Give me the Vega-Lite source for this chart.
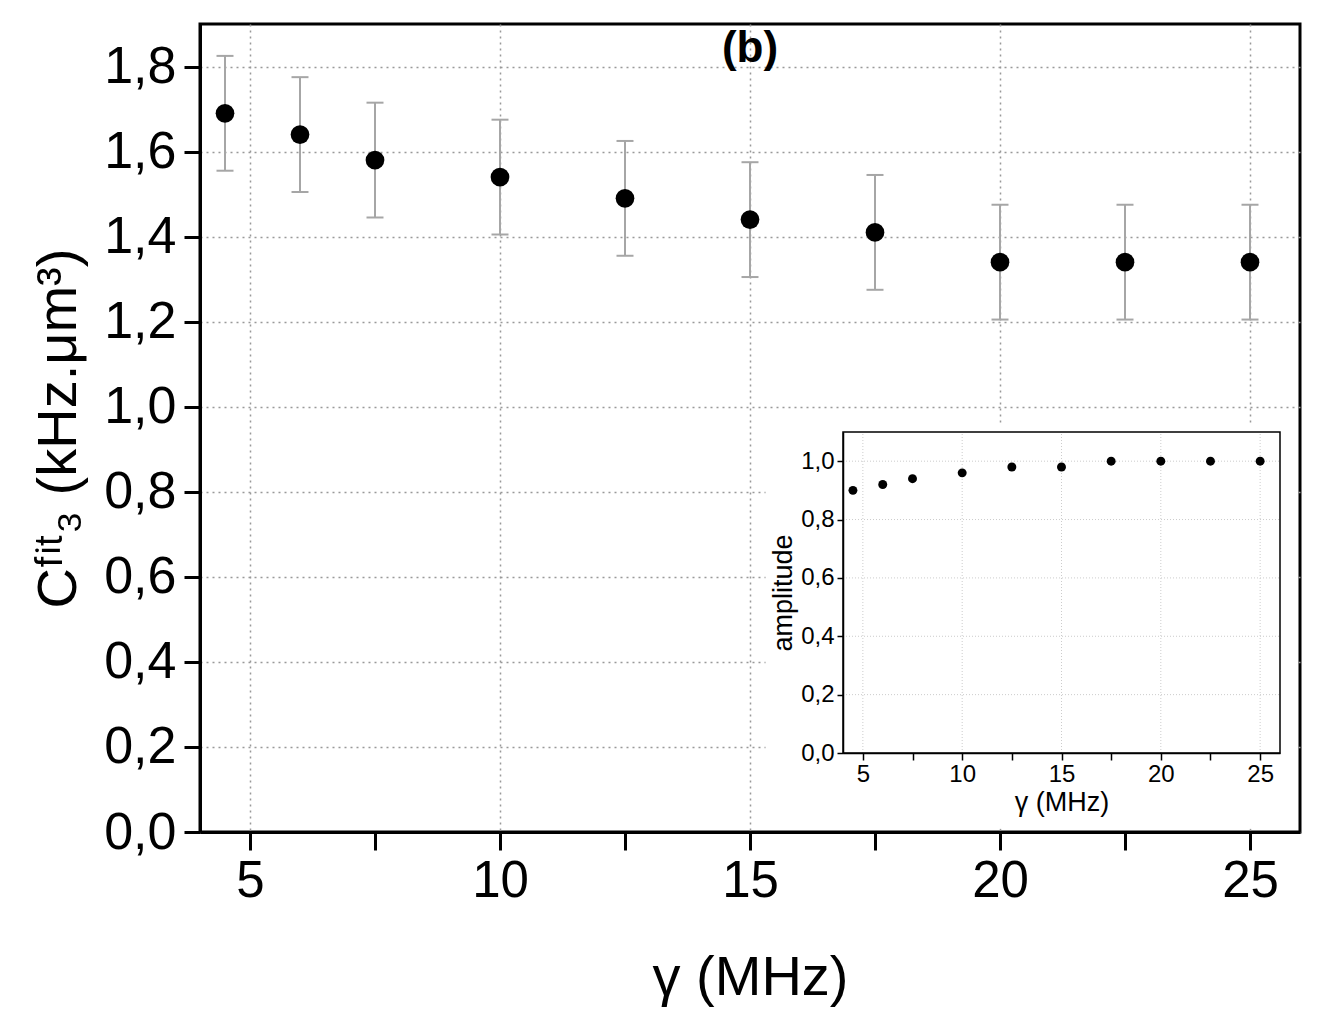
{
  "$schema": "https://vega.github.io/schema/vega-lite/v6.json",
  "width": 1100,
  "height": 808,
  "autosize": "none",
  "padding": {"left": 200, "top": 24, "right": 25, "bottom": 188},
  "background": "white",
  "config": {
    "font": "Liberation Sans",
    "view": {"stroke": "black", "strokeWidth": 3},
    "axis": {
      "labelColor": "black",
      "titleColor": "black",
      "titleFontWeight": "normal",
      "domainColor": "black",
      "tickColor": "black",
      "labelFlush": false,
      "labelOverlap": false
    }
  },
  "title": {
    "text": "(b)",
    "fontSize": 44,
    "fontWeight": "bold",
    "color": "black",
    "anchor": "middle",
    "baseline": "bottom",
    "offset": -48,
    "dy": 43
  },
  "layer": [
    {
      "data": {
        "values": [
          {"g": 4.5, "c": 1.69, "lo": 1.555, "hi": 1.825},
          {"g": 6, "c": 1.64, "lo": 1.505, "hi": 1.775},
          {"g": 7.5, "c": 1.58, "lo": 1.445, "hi": 1.715},
          {"g": 10, "c": 1.54, "lo": 1.405, "hi": 1.675},
          {"g": 12.5, "c": 1.49, "lo": 1.355, "hi": 1.625},
          {"g": 15, "c": 1.44, "lo": 1.305, "hi": 1.575},
          {"g": 17.5, "c": 1.41, "lo": 1.275, "hi": 1.545},
          {"g": 20, "c": 1.34, "lo": 1.205, "hi": 1.475},
          {"g": 22.5, "c": 1.34, "lo": 1.205, "hi": 1.475},
          {"g": 25, "c": 1.34, "lo": 1.205, "hi": 1.475}
        ]
      },
      "encoding": {
        "x": {
          "field": "g",
          "type": "quantitative",
          "scale": {"domain": [4, 26], "nice": false, "zero": false},
          "axis": {
            "values": [5, 7.5, 10, 12.5, 15, 17.5, 20, 22.5, 25],
            "labelExpr": "datum.value % 5 === 0 ? datum.label : ''",
            "labelFontSize": 51,
            "labelPadding": 6,
            "tickSize": 18,
            "tickWidth": 3,
            "domainWidth": 3,
            "grid": true,
            "gridColor": "#999999",
            "gridDash": [2, 4],
            "gridWidth": 1.5,
            "gridOpacity": {"condition": {"test": "datum.value % 5 !== 0", "value": 0}, "value": 1},
            "title": "γ (MHz)",
            "titleFontSize": 56,
            "titlePadding": 44,
            "encode": {"ticks": {"update": {"y2": {"signal": "datum.value % 5 === 0 ? 18 : 10"}}}}
          }
        }
      },
      "layer": [
        {
          "mark": {"type": "rule", "color": "#a6a6a6", "strokeWidth": 2},
          "encoding": {
            "y": {
              "field": "lo",
              "type": "quantitative",
              "scale": {"domain": [0, 1.9], "nice": false},
              "axis": {
                "values": [0, 0.2, 0.4, 0.6, 0.8, 1.0, 1.2, 1.4, 1.6, 1.8],
                "labelExpr": "replace(format(datum.value, '.1f'), '.', ',')",
                "labelFontSize": 52,
                "labelPadding": 8,
                "tickSize": 16,
                "tickWidth": 3,
                "domainWidth": 3,
                "grid": true,
                "gridColor": "#999999",
                "gridDash": [2, 4],
                "gridWidth": 1.5,
                "title": "Cᶠⁱᵗ₃ (kHz.μm³)",
                "titleFontSize": 56,
                "titlePadding": 16
              }
            },
            "y2": {"field": "hi"}
          }
        },
        {
          "mark": {"type": "tick", "orient": "horizontal", "size": 17, "thickness": 2, "color": "#a6a6a6", "opacity": 1},
          "encoding": {"y": {"field": "lo", "type": "quantitative"}}
        },
        {
          "mark": {"type": "tick", "orient": "horizontal", "size": 17, "thickness": 2, "color": "#a6a6a6", "opacity": 1},
          "encoding": {"y": {"field": "hi", "type": "quantitative"}}
        },
        {
          "mark": {"type": "circle", "size": 350, "color": "black", "opacity": 1},
          "encoding": {"y": {"field": "c", "type": "quantitative"}}
        }
      ]
    },
    {
      "layer": [
        {
          "data": {"values": [{}]},
          "mark": {"type": "rect", "fill": "white"},
          "encoding": {
            "x": {"datum": 0.1, "type": "quantitative", "scale": {"domain": [4, 26], "range": [643, 1080], "nice": false, "zero": false}},
            "x2": {"datum": 26.85},
            "y": {"datum": -0.26, "type": "quantitative", "scale": {"domain": [0, 1.1], "range": [729, 408], "nice": false}},
            "y2": {"datum": 1.13}
          }
        },
        {
          "data": {"values": [{"v": 5}, {"v": 10}, {"v": 15}, {"v": 20}, {"v": 25}]},
          "mark": {"type": "rule", "color": "#cccccc", "strokeDash": [1, 2], "strokeWidth": 1},
          "encoding": {
            "x": {"field": "v", "type": "quantitative"},
            "y": {"datum": 0, "type": "quantitative"},
            "y2": {"datum": 1.1}
          }
        },
        {
          "data": {"values": [{"h": 0.2}, {"h": 0.4}, {"h": 0.6}, {"h": 0.8}, {"h": 1.0}]},
          "mark": {"type": "rule", "color": "#cccccc", "strokeDash": [1, 2], "strokeWidth": 1},
          "encoding": {
            "y": {"field": "h", "type": "quantitative"},
            "x": {"datum": 4, "type": "quantitative"},
            "x2": {"datum": 26}
          }
        },
        {
          "data": {"values": [{}]},
          "mark": {"type": "rect", "fill": null, "fillOpacity": 0, "stroke": "black", "strokeWidth": 1.5},
          "encoding": {
            "x": {"datum": 4, "type": "quantitative"},
            "x2": {"datum": 26},
            "y": {"datum": 0, "type": "quantitative"},
            "y2": {"datum": 1.1}
          }
        },
        {
          "data": {
            "values": [
              {"g": 4.5, "amp": 0.90},
              {"g": 6, "amp": 0.92},
              {"g": 7.5, "amp": 0.94},
              {"g": 10, "amp": 0.96},
              {"g": 12.5, "amp": 0.98},
              {"g": 15, "amp": 0.98},
              {"g": 17.5, "amp": 1.0},
              {"g": 20, "amp": 1.0},
              {"g": 22.5, "amp": 1.0},
              {"g": 25, "amp": 1.0}
            ]
          },
          "mark": {"type": "circle", "size": 80, "color": "black", "opacity": 1},
          "encoding": {
            "x": {
              "field": "g",
              "type": "quantitative",
              "scale": {"domain": [4, 26], "range": [643, 1080], "nice": false, "zero": false},
              "axis": {
                "orient": "bottom",
                "offset": -79,
                "values": [5, 7.5, 10, 12.5, 15, 17.5, 20, 22.5, 25],
                "labelExpr": "datum.value % 5 === 0 ? datum.label : ''",
                "labelFontSize": 24,
                "labelPadding": 2,
                "tickSize": 7,
                "tickWidth": 1.5,
                "domainWidth": 1.5,
                "grid": false,
                "title": "γ (MHz)",
                "titleFontSize": 27,
                "titlePadding": 3,
                "zindex": 1,
                "encode": {"ticks": {"update": {"y2": {"signal": "datum.value % 5 === 0 ? 7 : 4"}}}}
              }
            },
            "y": {
              "field": "amp",
              "type": "quantitative",
              "scale": {"domain": [0, 1.1], "range": [729, 408], "nice": false},
              "axis": {
                "orient": "left",
                "offset": -643,
                "values": [0, 0.2, 0.4, 0.6, 0.8, 1.0],
                "labelExpr": "replace(format(datum.value, '.1f'), '.', ',')",
                "labelFontSize": 24,
                "labelPadding": 3,
                "tickSize": 6,
                "tickWidth": 1.5,
                "domainWidth": 1.5,
                "grid": false,
                "title": "amplitude",
                "titleFontSize": 27,
                "titlePadding": 3,
                "zindex": 1
              }
            }
          }
        }
      ]
    }
  ],
  "resolve": {"scale": {"x": "independent", "y": "independent"}}
}
